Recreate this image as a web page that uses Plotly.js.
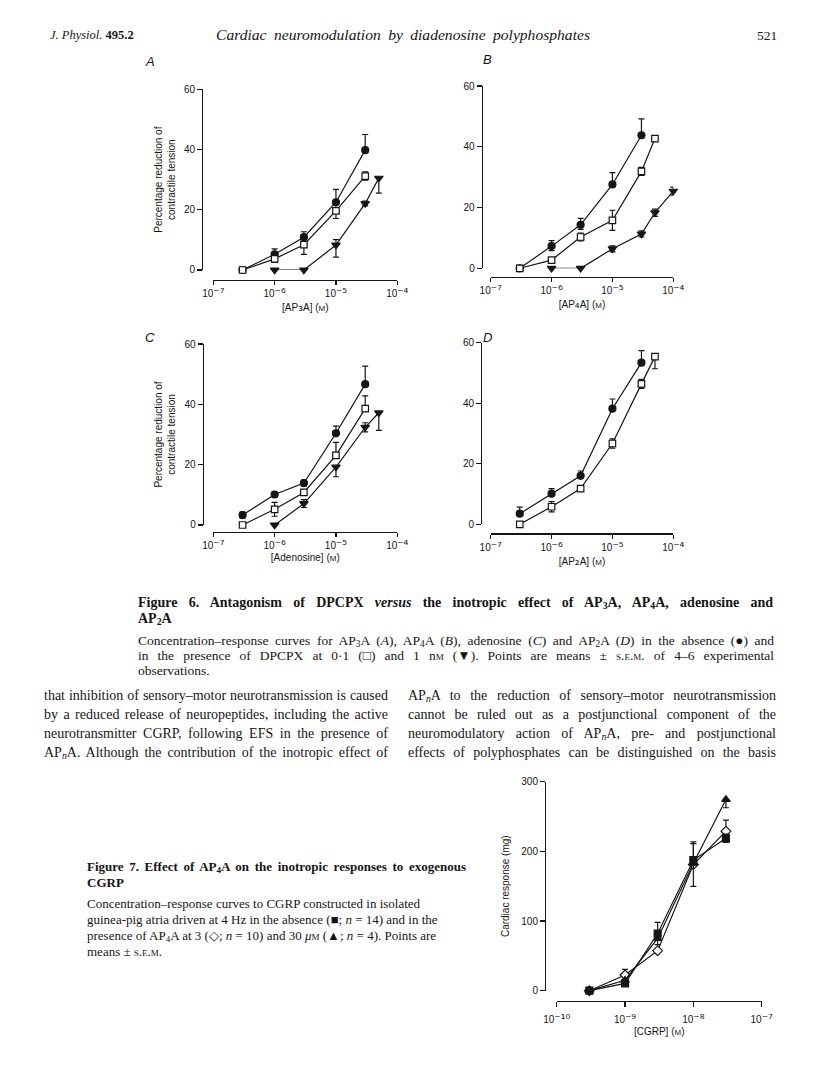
<!DOCTYPE html>
<html><head><meta charset="utf-8">
<script src="https://cdn.plot.ly/plotly-3.0.1.min.js"></script>
<style>
body{margin:0;background:#fff;}
#page{position:relative;width:816px;height:1071px;overflow:hidden;background:#fff;}
#chart{position:absolute;left:0;top:0;width:816px;height:1071px;}
.t{position:absolute;font-family:"Liberation Serif","Times New Roman",serif;color:#151515;white-space:nowrap;line-height:1;z-index:5;}
.t sub{vertical-align:-0.25em;line-height:0;}
.sc{font-variant:small-caps;}
</style></head><body>
<div id="page"><div id="chart"></div></div>
<script>
// ---------- DATA ----------
// Figure 6A: AP3A (M)
const A_ctrl_x = [3e-7, 1e-6, 3e-6, 1e-5, 3e-5];
const A_ctrl_y = [0, 5.2, 10.9, 22.5, 39.8];
const A_ctrl_ep = [null, 1.8, 1.8, 4.3, 5.2];
const A_ctrl_em = [null, 0, 0, 0, 0];
const A_d01_x = [3e-7, 1e-6, 3e-6, 1e-5, 3e-5];
const A_d01_y = [0, 3.7, 8.4, 19.6, 31.2];
const A_d01_ep = [null, 1.2, 3.2, 2.5, 1.4];
const A_d01_em = [null, 1.2, 3.2, 2.5, 1.4];
const A_d1_x = [1e-6, 3e-6, 1e-5, 3e-5, 5e-5];
const A_d1_y = [0, 0, 8.3, 22.1, 30.5];
const A_d1_ep = [null, null, 1.8, 0.8, 0];
const A_d1_em = [null, null, 4.0, 0.8, 5.0];
// Figure 6B: AP4A
const B_ctrl_x = [3e-7, 1e-6, 3e-6, 1e-5, 3e-5];
const B_ctrl_y = [0, 7.3, 14.3, 27.6, 43.8];
const B_ctrl_ep = [null, 1.8, 2.1, 3.9, 5.4];
const B_ctrl_em = [null, 1.5, 1.5, 0, 0];
const B_d01_x = [3e-7, 1e-6, 3e-6, 1e-5, 3e-5, 5e-5];
const B_d01_y = [0, 2.7, 10.3, 15.8, 31.9, 42.7];
const B_d01_ep = [null, 0.5, 1.3, 3.3, 1.3, 0.5];
const B_d01_em = [null, 0.5, 1.3, 3.3, 1.3, 0.5];
const B_d1_x = [1e-6, 3e-6, 1e-5, 3e-5, 5e-5, 1e-4];
const B_d1_y = [0, 0, 6.4, 11.3, 18.3, 25.4];
const B_d1_ep = [null, null, 1.0, 1.0, 1.2, 1.3];
const B_d1_em = [null, null, 1.0, 1.0, 1.2, 1.3];
// Figure 6C: adenosine
const C_ctrl_x = [3e-7, 1e-6, 3e-6, 1e-5, 3e-5];
const C_ctrl_y = [3.3, 10.1, 13.9, 30.4, 46.7];
const C_ctrl_ep = [1.0, 0.8, 1.0, 2.4, 6.0];
const C_ctrl_em = [1.0, 0.8, 1.0, 0, 0];
const C_d01_x = [3e-7, 1e-6, 3e-6, 1e-5, 3e-5];
const C_d01_y = [0, 5.2, 10.8, 23.1, 38.6];
const C_d01_ep = [null, 2.3, 0.8, 4.3, 4.2];
const C_d01_em = [null, 2.3, 0.8, 0, 0];
const C_d1_x = [1e-6, 3e-6, 1e-5, 3e-5, 5e-5];
const C_d1_y = [0, 7.1, 19.2, 32.4, 37.2];
const C_d1_ep = [null, 1.3, 0, 1.5, 0];
const C_d1_em = [null, 1.3, 3.2, 1.5, 5.8];
// Figure 6D: AP2A
const D_ctrl_x = [3e-7, 1e-6, 3e-6, 1e-5, 3e-5];
const D_ctrl_y = [3.5, 10.1, 16.0, 38.2, 53.4];
const D_ctrl_ep = [2.2, 1.7, 1.6, 3.2, 4.0];
const D_ctrl_em = [0, 0, 0, 0, 0];
const D_d01_x = [3e-7, 1e-6, 3e-6, 1e-5, 3e-5, 5e-5];
const D_d01_y = [0, 5.8, 11.8, 26.7, 46.4, 55.4];
const D_d01_ep = [null, 1.7, 0.7, 1.5, 1.5, 0];
const D_d01_em = [null, 1.7, 0.7, 1.5, 1.5, 4.0];
// Figure 7: CGRP (M), cardiac response (mg)
const F7_x = [3e-10, 1e-9, 3e-9, 1e-8, 3e-8];
const F7_ctrl_y = [0, 10.5, 82, 187.5, 218.7];
const F7_ctrl_ep = [null, 3, 16, 26, 6];
const F7_ctrl_em = [null, 3, 16, 0, 6];
const F7_ap3_y = [0, 22.5, 57.4, 181, 229];
const F7_ap3_ep = [null, 8, 0, 30, 16];
const F7_ap3_em = [null, 0, 0, 0, 0];
const F7_ap30_y = [0, 15, 75, 182.8, 274.6];
const F7_ap30_ep = [null, 0, 0, 0, 0];
const F7_ap30_em = [null, 0, 0, 33, 12];

// tick labels
const fig6_xticks = [1e-7, 1e-6, 1e-5, 1e-4];
const fig6_xexp = ['\u207B\u2077', '\u207B\u2076', '\u207B\u2075', '\u207B\u2074'];
const fig6_yticks = [0, 20, 40, 60];
const fig7_xticks = [1e-10, 1e-9, 1e-8, 1e-7];
const fig7_xexp = ['\u207B\u00B9\u2070', '\u207B\u2079', '\u207B\u2078', '\u207B\u2077'];
const fig7_yticks = [0, 100, 200, 300];

const supTxt = e => '10<span style="font-family:\'DejaVu Sans\';font-size:12px">' + e + '</span>';
const subTxt = d => '<span style="font-family:\'DejaVu Sans\';font-size:12px">' + d + '</span>';
const M = '(<span style="font-size:8px">M</span>)';
const xTitles = ['[AP' + subTxt('\u2083') + 'A] ' + M, '[AP' + subTxt('\u2084') + 'A] ' + M,
  '[Adenosine] ' + M, '[AP' + subTxt('\u2082') + 'A] ' + M];
const yTitle6 = 'Percentage reduction of<br>contractile tension';
const xTitle7 = '[CGRP] ' + M;
const yTitle7 = 'Cardiac response (mg)';
const panelLetters = ['A', 'B', 'C', 'D'];

// ---------- LAYOUT ----------
const W = 816, H = 1071;
const fx = p => p / W, fy = p => 1 - p / H;
const INK = '#151515';
const layout = {
  width: W, height: H, margin: {l: 0, r: 0, t: 0, b: 0},
  paper_bgcolor: '#fff', plot_bgcolor: 'rgba(0,0,0,0)', showlegend: false,
  font: {family: 'Liberation Sans, Arial, sans-serif', size: 10, color: INK},
  annotations: []
};
function baseAxis() {
  return {showline: true, linecolor: INK, linewidth: 1.3, ticks: 'outside', ticklen: 5, tickwidth: 1.2,
    tickcolor: INK, showgrid: false, zeroline: false, anchor: 'free', fixedrange: true,
    tickfont: {size: 10, color: INK}};
}
// panel geometry in px: [x0,x1 (decades), xAxisY, yAxisX, y0px, ytopPx]
const geo = [
  [213.3, 397.3, 280.0, 202.0, 270.0, 89.3],
  [490.7, 673.3, 276.7, 481.7, 268.3, 86.0],
  [213.3, 397.3, 531.7, 202.7, 525.0, 344.0],
  [490.7, 673.3, 533.3, 481.0, 524.3, 342.7]
];
const letterPos = [[150, 61], [487, 59], [150, 337], [487, 337]];
geo.forEach((g, i) => {
  const n = i + 1, xs = 'xaxis' + (n === 1 ? '' : n), ys = 'yaxis' + (n === 1 ? '' : n);
  const xa = baseAxis();
  Object.assign(xa, {type: 'log', range: [-7.0005, -3.9995], domain: [fx(g[0]), fx(g[1])], position: fy(g[2]),
    tickmode: 'array', tickvals: fig6_xticks, ticktext: fig6_xexp.map(supTxt), ticklen: 4,
    title: {text: xTitles[i], font: {size: 10, color: INK}, standoff: 0}});
  const ya = baseAxis();
  Object.assign(ya, {range: [-0.005, 60.005], domain: [fy(g[4]), fy(g[5])], position: fx(g[3]),
    tickmode: 'array', tickvals: fig6_yticks, ticktext: fig6_yticks.map(String)});
  if (i % 2 === 0) ya.title = {text: yTitle6, font: {size: 10, color: INK}, standoff: 5};
  layout[xs] = xa; layout[ys] = ya;
  layout.annotations.push({xref: 'paper', yref: 'paper', x: fx(letterPos[i][0]), y: fy(letterPos[i][1]),
    text: '<i>' + panelLetters[i] + '</i>', showarrow: false, xanchor: 'center', yanchor: 'middle',
    font: {size: 13, color: INK, family: 'Liberation Sans, Arial, sans-serif'}});
});
// figure 7 axes
(function () {
  const xa = baseAxis();
  Object.assign(xa, {type: 'log', range: [-10.0005, -6.9995], domain: [fx(556.7), fx(761.7)], position: fy(1000.7),
    tickmode: 'array', tickvals: fig7_xticks, ticktext: fig7_xexp.map(supTxt), ticklen: 5, ticklabelstandoff: 4,
    title: {text: xTitle7, font: {size: 10, color: INK}, standoff: 3}});
  const ya = baseAxis();
  Object.assign(ya, {range: [-0.02, 300.02], domain: [fy(990.7), fy(781.7)], position: fx(545),
    tickmode: 'array', tickvals: fig7_yticks, ticktext: fig7_yticks.map(String),
    title: {text: yTitle7, font: {size: 10, color: INK}, standoff: 8}});
  layout.xaxis5 = xa; layout.yaxis5 = ya;
})();

// ---------- TRACES ----------
const fixErr = a => a.map(v => v == null ? NaN : v);
function trace(x, y, ep, em, sym, fill, size, n) {
  const s = n === 1 ? '' : String(n);
  return {type: 'scatter', mode: 'lines+markers', x: x, y: y, xaxis: 'x' + s, yaxis: 'y' + s,
    cliponaxis: false, hoverinfo: 'skip',
    line: {color: INK, width: 1.2},
    marker: {symbol: sym, size: size, color: fill, line: {color: INK, width: 1.2}},
    error_y: {type: 'data', symmetric: false, array: fixErr(ep), arrayminus: fixErr(em),
      color: INK, thickness: 1.2, width: 3}};
}
const data = [
  trace(A_ctrl_x, A_ctrl_y, A_ctrl_ep, A_ctrl_em, 'circle', INK, 7, 1),
  trace(A_d01_x, A_d01_y, A_d01_ep, A_d01_em, 'square', '#fff', 6.5, 1),
  trace(A_d1_x, A_d1_y, A_d1_ep, A_d1_em, 'triangle-down', INK, 7.5, 1),
  trace(B_ctrl_x, B_ctrl_y, B_ctrl_ep, B_ctrl_em, 'circle', INK, 7, 2),
  trace(B_d01_x, B_d01_y, B_d01_ep, B_d01_em, 'square', '#fff', 6.5, 2),
  trace(B_d1_x, B_d1_y, B_d1_ep, B_d1_em, 'triangle-down', INK, 7.5, 2),
  trace(C_ctrl_x, C_ctrl_y, C_ctrl_ep, C_ctrl_em, 'circle', INK, 7, 3),
  trace(C_d01_x, C_d01_y, C_d01_ep, C_d01_em, 'square', '#fff', 6.5, 3),
  trace(C_d1_x, C_d1_y, C_d1_ep, C_d1_em, 'triangle-down', INK, 7.5, 3),
  trace(D_ctrl_x, D_ctrl_y, D_ctrl_ep, D_ctrl_em, 'circle', INK, 7, 4),
  trace(D_d01_x, D_d01_y, D_d01_ep, D_d01_em, 'square', '#fff', 6.5, 4),
  trace(F7_x, F7_ap3_y, F7_ap3_ep, F7_ap3_em, 'diamond', '#fff', 7.5, 5),
  trace(F7_x, F7_ap30_y, F7_ap30_ep, F7_ap30_em, 'triangle-up', INK, 7.5, 5),
  trace(F7_x, F7_ctrl_y, F7_ctrl_ep, F7_ctrl_em, 'square', INK, 7, 5)
];

Plotly.newPlot('chart', data, layout, {staticPlot: true, displayModeBar: false});

// ---------- PAGE TEXT (HTML) ----------
const sub = s => '<sub>' + s + '</sub>';
const APn = 'AP<sub><i>n</i></sub>A';
const textLines = [
  // [x, yCenter, fontSize, html, targetWidth or 0]
  [50, 36, 12.5, '<i>J. Physiol.</i> <b>495.2</b>', 0],
  [216, 36, 15.6, '<i>Cardiac neuromodulation by diadenosine polyphosphates</i>', 374],
  [757, 36, 13.5, '521', 0],
  [138, 604, 14, '<b>Figure 6. Antagonism of DPCPX <i>versus</i> the inotropic effect of AP' + sub('3') + 'A, AP' + sub('4') + 'A, adenosine and</b>', 635],
  [138, 620, 14, '<b>AP' + sub('2') + 'A</b>', 0],
  [138, 641, 13.5, 'Concentration\u2013response curves for AP' + sub('3') + 'A (<i>A</i>), AP' + sub('4') + 'A (<i>B</i>), adenosine (<i>C</i>) and AP' + sub('2') + 'A (<i>D</i>) in the absence (\u25CF) and', 636],
  [138, 656, 13.5, 'in the presence of DPCPX at 0\u00B71 (\u25A1) and 1 n<span class="sc">m</span> (\u25BC). Points are means \u00B1 <span class="sc">s.e.m.</span> of 4\u20136 experimental', 636],
  [138, 671, 13.5, 'observations.', 0],
  [44, 697, 14, 'that inhibition of sensory\u2013motor neurotransmission is caused', 344],
  [44, 716, 14, 'by a reduced release of neuropeptides, including the active', 344],
  [44, 735, 14, 'neurotransmitter CGRP, following EFS in the presence of', 344],
  [44, 754, 14, APn + '. Although the contribution of the inotropic effect of', 344],
  [408, 697, 14, APn + ' to the reduction of sensory\u2013motor neurotransmission', 368],
  [408, 716, 14, 'cannot be ruled out as a postjunctional component of the', 368],
  [408, 735, 14, 'neuromodulatory action of ' + APn + ', pre- and postjunctional', 368],
  [408, 754, 14, 'effects of polyphosphates can be distinguished on the basis', 368],
  [87, 867, 13, '<b>Figure 7. Effect of AP' + sub('4') + 'A on the inotropic responses to exogenous</b>', 379],
  [87, 883, 13, '<b>CGRP</b>', 0],
  [87, 904, 13, 'Concentration\u2013response curves to CGRP constructed in isolated', 0],
  [87, 920, 13, 'guinea-pig atria driven at 4 Hz in the absence (\u25A0; <i>n</i> = 14) and in the', 0],
  [87, 936, 13, 'presence of AP' + sub('4') + 'A at 3 (\u25C7; <i>n</i> = 10) and 30 <i>\u03BC</i><span class="sc">m</span> (\u25B2; <i>n</i> = 4). Points are', 0],
  [87, 952, 13, 'means \u00B1 <span class="sc">s.e.m.</span>', 0]
];
const page = document.getElementById('page');
textLines.forEach(L => {
  const d = document.createElement('div');
  d.className = 't';
  d.style.left = L[0] + 'px';
  d.style.top = (L[1] - L[2] * 0.55) + 'px';
  d.style.fontSize = L[2] + 'px';
  d.innerHTML = L[3];
  const subSize = (L[2] * 0.7).toFixed(1) + 'px';
  d.querySelectorAll('b,i,span').forEach(s => { s.style.fontSize = L[2] + 'px'; });
  d.querySelectorAll('sub').forEach(s => {
    s.style.fontSize = subSize;
    s.querySelectorAll('*').forEach(c => { c.style.fontSize = subSize; });
  });
  page.appendChild(d);
  if (L[4]) {
    const w0 = d.getBoundingClientRect().width;
    const nSp = (d.textContent.match(/ /g) || []).length;
    if (nSp) d.style.wordSpacing = ((L[4] - w0) / nSp).toFixed(2) + 'px';
  }
});
</script>
</body></html>
